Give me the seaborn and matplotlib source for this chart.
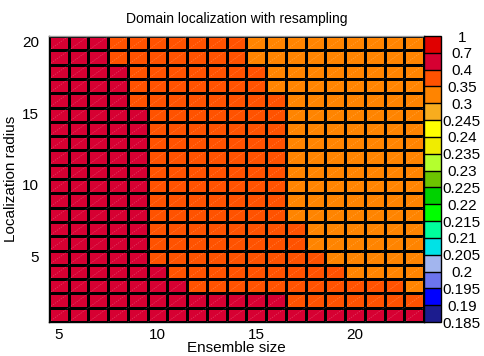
import numpy as np
import pandas as pd
import matplotlib
matplotlib.use("Agg")
import matplotlib.pyplot as plt
from matplotlib.colors import ListedColormap, BoundaryNorm
import seaborn as sns

plt.rcParams['font.family'] = ['Liberation Sans', 'DejaVu Sans']

# ensemble sizes (columns) and localization radii (rows, top to bottom)
ensemble = [5, 6, 7, 8, 9, 10, 11, 12, 13, 14, 15, 16, 17, 18, 19, 20, 21, 22, 23]
radius = [20, 19, 18, 17, 16, 15, 14, 13, 12, 11, 10, 9, 8, 7, 6, 5, 4, 3, 2, 1]

# RMSE, one row per radius
rmse = [
    [0.55, 0.55, 0.55, 0.37, 0.37, 0.37, 0.37, 0.37, 0.37, 0.37, 0.32, 0.32, 0.32, 0.32, 0.32, 0.32, 0.32, 0.32, 0.32],
    [0.55, 0.55, 0.55, 0.37, 0.37, 0.37, 0.37, 0.37, 0.37, 0.37, 0.32, 0.32, 0.32, 0.32, 0.32, 0.32, 0.32, 0.32, 0.32],
    [0.55, 0.55, 0.55, 0.55, 0.37, 0.37, 0.37, 0.37, 0.37, 0.37, 0.37, 0.32, 0.32, 0.32, 0.32, 0.32, 0.32, 0.32, 0.32],
    [0.55, 0.55, 0.55, 0.55, 0.37, 0.37, 0.37, 0.37, 0.37, 0.37, 0.37, 0.32, 0.32, 0.32, 0.32, 0.32, 0.32, 0.32, 0.32],
    [0.55, 0.55, 0.55, 0.55, 0.37, 0.37, 0.37, 0.37, 0.37, 0.37, 0.37, 0.37, 0.32, 0.32, 0.32, 0.32, 0.32, 0.32, 0.32],
    [0.55, 0.55, 0.55, 0.55, 0.55, 0.37, 0.37, 0.37, 0.37, 0.37, 0.37, 0.37, 0.32, 0.32, 0.32, 0.32, 0.32, 0.32, 0.32],
    [0.55, 0.55, 0.55, 0.55, 0.55, 0.37, 0.37, 0.37, 0.37, 0.37, 0.37, 0.37, 0.32, 0.32, 0.32, 0.32, 0.32, 0.32, 0.32],
    [0.55, 0.55, 0.55, 0.55, 0.55, 0.37, 0.37, 0.37, 0.37, 0.37, 0.37, 0.37, 0.32, 0.32, 0.32, 0.32, 0.32, 0.32, 0.32],
    [0.55, 0.55, 0.55, 0.55, 0.55, 0.37, 0.37, 0.37, 0.37, 0.37, 0.37, 0.37, 0.32, 0.32, 0.32, 0.32, 0.32, 0.32, 0.32],
    [0.55, 0.55, 0.55, 0.55, 0.55, 0.37, 0.37, 0.37, 0.37, 0.37, 0.37, 0.37, 0.32, 0.32, 0.32, 0.32, 0.32, 0.32, 0.32],
    [0.55, 0.55, 0.55, 0.55, 0.55, 0.37, 0.37, 0.37, 0.37, 0.37, 0.37, 0.37, 0.32, 0.32, 0.32, 0.32, 0.32, 0.32, 0.32],
    [0.55, 0.55, 0.55, 0.55, 0.55, 0.37, 0.37, 0.37, 0.37, 0.37, 0.37, 0.37, 0.32, 0.32, 0.32, 0.32, 0.32, 0.32, 0.32],
    [0.55, 0.55, 0.55, 0.55, 0.55, 0.37, 0.37, 0.37, 0.37, 0.37, 0.37, 0.37, 0.32, 0.32, 0.32, 0.32, 0.32, 0.32, 0.32],
    [0.55, 0.55, 0.55, 0.55, 0.55, 0.37, 0.37, 0.37, 0.37, 0.37, 0.37, 0.37, 0.37, 0.32, 0.32, 0.32, 0.32, 0.32, 0.32],
    [0.55, 0.55, 0.55, 0.55, 0.55, 0.37, 0.37, 0.37, 0.37, 0.37, 0.37, 0.37, 0.37, 0.32, 0.32, 0.32, 0.32, 0.32, 0.32],
    [0.55, 0.55, 0.55, 0.55, 0.55, 0.37, 0.37, 0.37, 0.37, 0.37, 0.37, 0.37, 0.37, 0.37, 0.32, 0.32, 0.32, 0.32, 0.32],
    [0.55, 0.55, 0.55, 0.55, 0.55, 0.55, 0.37, 0.37, 0.37, 0.37, 0.37, 0.37, 0.37, 0.37, 0.37, 0.32, 0.32, 0.32, 0.32],
    [0.55, 0.55, 0.55, 0.55, 0.55, 0.55, 0.55, 0.37, 0.37, 0.37, 0.37, 0.37, 0.37, 0.37, 0.37, 0.37, 0.37, 0.37, 0.32],
    [0.55, 0.55, 0.55, 0.55, 0.55, 0.55, 0.55, 0.55, 0.55, 0.55, 0.55, 0.55, 0.37, 0.37, 0.37, 0.37, 0.37, 0.37, 0.37],
    [0.55, 0.55, 0.55, 0.55, 0.55, 0.55, 0.55, 0.55, 0.55, 0.55, 0.55, 0.55, 0.55, 0.55, 0.55, 0.55, 0.55, 0.55, 0.55],
]

# contour levels of the colour scale, bottom to top
levels = [0.185, 0.19, 0.195, 0.2, 0.205, 0.21, 0.215, 0.22, 0.225, 0.23,
          0.235, 0.24, 0.245, 0.3, 0.35, 0.4, 0.7, 1]
level_labels = ['0.185', '0.19', '0.195', '0.2', '0.205', '0.21', '0.215', '0.22', '0.225',
                '0.23', '0.235', '0.24', '0.245', '0.3', '0.35', '0.4', '0.7', '1']
band_colors = ['#1c1c8e', '#0000ff', '#6c74ee', '#a2b5ee', '#00e2e6', '#00ff9c',
               '#00ff00', '#00d200', '#6cc400', '#b4ff2e', '#f0ec00', '#ffff00',
               '#f8ac1e', '#ff8400', '#ff5200', '#d60032', '#e00000']

xtick_vals = [5, 10, 15, 20]
ytick_vals = [20, 15, 10, 5]

df = pd.DataFrame(rmse, index=radius, columns=ensemble)
cmap = ListedColormap(band_colors)
norm = BoundaryNorm(levels, cmap.N)

fig = plt.figure(figsize=(4.85, 3.56), dpi=100)
ax = fig.add_axes([49 / 485, 1 - 322 / 356, 375 / 485, 286 / 356])
cax = fig.add_axes([424.5 / 485, 1 - 322 / 356, 16.5 / 485, 286 / 356])

sns.heatmap(df, ax=ax, cbar_ax=cax, cmap=cmap, norm=norm,
            linewidths=0.8, linecolor='black',
            cbar_kws={'ticks': levels, 'drawedges': True})

# faint diagonal in every cell (triangulated patches of the original)
for i in range(len(radius)):
    for j in range(len(ensemble)):
        ax.plot([j, j + 1], [i + 1, i], color='white', alpha=0.25, lw=0.5,
                ls=(0, (2, 1.5)))

ax.set_xticks([ensemble.index(v) + 0.5 for v in xtick_vals], [str(v) for v in xtick_vals])
ax.set_yticks([radius.index(v) + 0.5 for v in ytick_vals], [str(v) for v in ytick_vals],
              rotation=0)
ax.tick_params(length=0, labelsize=11)
ax.tick_params(axis='x', pad=4)
ax.tick_params(axis='y', pad=7)
for name, s in ax.spines.items():
    s.set_visible(True)
    s.set_color('#999999' if name == 'top' else 'black')
    s.set_linewidth(1)

ax.set_xlabel('Ensemble size', fontsize=11, labelpad=-0.5)
ax.set_ylabel('Localization radius', fontsize=11, labelpad=3)
ax.set_title('Domain localization with resampling', fontsize=10, pad=9)

cb = ax.collections[0].colorbar
cb.outline.set_linewidth(1)
cb.outline.set_edgecolor('black')
cb.dividers.set_linewidth(1)
cb.dividers.set_color('black')
cb.ax.set_yticklabels(level_labels)
cb.ax.tick_params(length=0, labelsize=11, pad=15)
for t in cb.ax.get_yticklabels():
    t.set_ha('center')

fig.savefig('out.png', dpi=100)
